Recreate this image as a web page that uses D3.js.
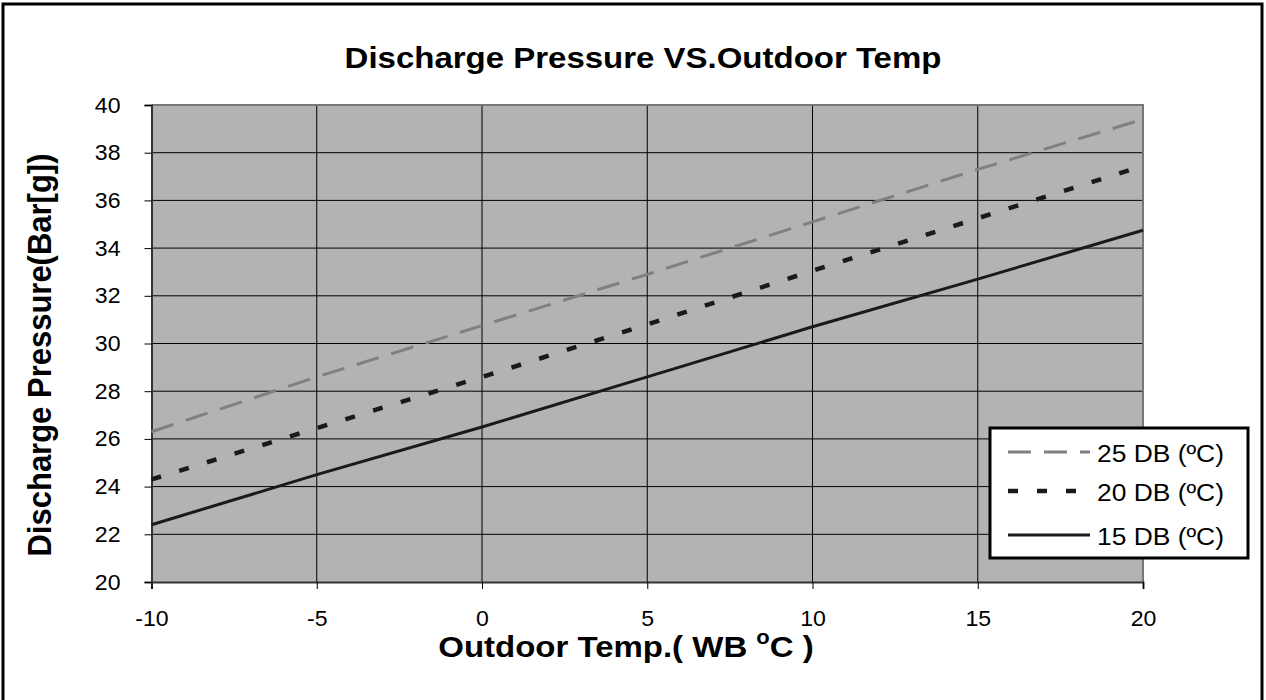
<!DOCTYPE html>
<html>
<head>
<meta charset="utf-8">
<script src="https://cdn.jsdelivr.net/npm/d3@7"></script>
<style>
  html, body { margin: 0; padding: 0; background: #fff; }
  svg { display: block; font-family: "Liberation Sans", Arial, sans-serif; }
</style>
</head>
<body>
<svg id="chart" width="1266" height="700"></svg>
<script>
// ---- data ----
const temps = [-10, -5, 0, 5, 10, 15, 20];
const db25 = [26.3, 28.6, 30.75, 32.9, 35.1, 37.3, 39.4];
const db20 = [24.3, 26.45, 28.6, 30.8, 33.05, 35.25, 37.45];
const db15 = [22.4, 24.5, 26.5, 28.6, 30.7, 32.7, 34.75];
const xTicks = [-10, -5, 0, 5, 10, 15, 20];
const yTicks = [20, 22, 24, 26, 28, 30, 32, 34, 36, 38, 40];
const seriesNames = ["25 DB (ºC)", "20 DB (ºC)", "15 DB (ºC)"];
const titleText = "Discharge Pressure VS.Outdoor Temp";
const yTitle = "Discharge Pressure(Bar[g])";

const series = [
  { name: seriesNames[0], values: db25, color: "#808080", dash: "23,13", width: 3 },
  { name: seriesNames[1], values: db20, color: "#1a1a1a", dash: "10,19", width: 4.5 },
  { name: seriesNames[2], values: db15, color: "#1a1a1a", dash: null, width: 3 }
];

const SX = 1.1;   // horizontal stretch of titles, as in the reference
const TSX = 1.05; // stretch of tick labels
const svg = d3.select("#chart");
const plot = { left: 151.5, right: 1143, top: 105, bottom: 582 };

// outer frame
svg.append("rect").attr("x", 3).attr("y", 4).attr("width", 1259).attr("height", 710)
  .attr("fill", "#fff").attr("stroke", "#000").attr("stroke-width", 3);

const x = d3.scaleLinear().domain([-10, 20]).range([plot.left, plot.right]);
const y = d3.scaleLinear().domain([20, 40]).range([plot.bottom, plot.top]);

// plot background
svg.append("rect").attr("x", plot.left).attr("y", plot.top)
  .attr("width", plot.right - plot.left).attr("height", plot.bottom - plot.top)
  .attr("fill", "#b3b3b3");

// gridlines
svg.append("g").selectAll("line").data(yTicks.filter(d => d > 20 && d < 40)).join("line")
  .attr("x1", plot.left).attr("x2", plot.right)
  .attr("y1", d => y(d)).attr("y2", d => y(d))
  .attr("stroke", "#000").attr("stroke-width", 1);
svg.append("g").selectAll("line").data(xTicks.filter(d => d > -10 && d < 20)).join("line")
  .attr("y1", plot.top).attr("y2", plot.bottom)
  .attr("x1", d => x(d)).attr("x2", d => x(d))
  .attr("stroke", "#000").attr("stroke-width", 1);

// plot border (top/right gray)
svg.append("path")
  .attr("d", `M${plot.left},${plot.top}H${plot.right}V${plot.bottom}`)
  .attr("fill", "none").attr("stroke", "#777").attr("stroke-width", 2);

// axes
const xAxis = d3.axisBottom(x).tickValues(xTicks).tickSize(7).tickPadding(21).tickFormat(d => String(d));
const yAxis = d3.axisLeft(y).tickValues(yTicks).tickSize(7).tickPadding(24).tickFormat(d => String(d));

const gx = svg.append("g").attr("transform", `translate(0,${plot.bottom})`).call(xAxis);
const gy = svg.append("g").attr("transform", `translate(${plot.left},0)`).call(yAxis);
[gx, gy].forEach(g => {
  g.attr("font-size", null);
  g.select(".domain").attr("stroke", "#333").attr("stroke-width", 2);
  g.selectAll(".tick line").attr("stroke", "#000").attr("stroke-width", 1);
  g.selectAll(".tick text").attr("fill", "#000").style("font-size", "22px")
    .style("font-family", "'Liberation Sans', Arial, sans-serif")
    .attr("transform", `scale(${TSX},1)`);
});
gy.selectAll(".tick text").attr("text-anchor", "end").attr("x", -31 / TSX);

// lines
const line = d3.line().x((d, i) => x(temps[i])).y(d => y(d));
series.forEach(s => {
  svg.append("path").datum(s.values)
    .attr("d", line)
    .attr("fill", "none")
    .attr("stroke", s.color)
    .attr("stroke-width", s.width)
    .attr("stroke-dasharray", s.dash)
    .attr("stroke-linejoin", "round");
});

// title
svg.append("text").attr("transform", `translate(643,68) scale(${SX},1)`).attr("text-anchor", "middle")
  .style("font-size", "30px").style("font-weight", "bold").text(titleText);

// x title
const xt = svg.append("text").attr("transform", `translate(626,657) scale(${SX},1)`).attr("text-anchor", "middle")
  .style("font-size", "30px").style("font-weight", "bold");
xt.append("tspan").text("Outdoor Temp.( WB ");
xt.append("tspan").attr("dy", -13).style("font-size", "20px").text("o");
xt.append("tspan").attr("dy", 13).text("C )");

// y title
svg.append("text").attr("transform", `translate(51,355) rotate(-90) scale(1,${SX})`)
  .attr("text-anchor", "middle")
  .style("font-size", "31px").style("font-weight", "bold").text(yTitle);

// legend
const lg = { x: 990, y: 428, w: 258, h: 130 };
svg.append("rect").attr("x", lg.x).attr("y", lg.y).attr("width", lg.w).attr("height", lg.h)
  .attr("fill", "#fff").attr("stroke", "#000").attr("stroke-width", 3);
const rowY = [452, 491, 535];
series.forEach((s, i) => {
  svg.append("line").attr("x1", 1008).attr("x2", 1090)
    .attr("y1", rowY[i]).attr("y2", rowY[i])
    .attr("stroke", s.color).attr("stroke-width", s.width)
    .attr("stroke-dasharray", s.dash);
  svg.append("text").attr("transform", `translate(1097,${rowY[i] + 9.5}) scale(${SX},1)`)
    .style("font-size", "24px").text(s.name);
});
</script>
</body>
</html>
